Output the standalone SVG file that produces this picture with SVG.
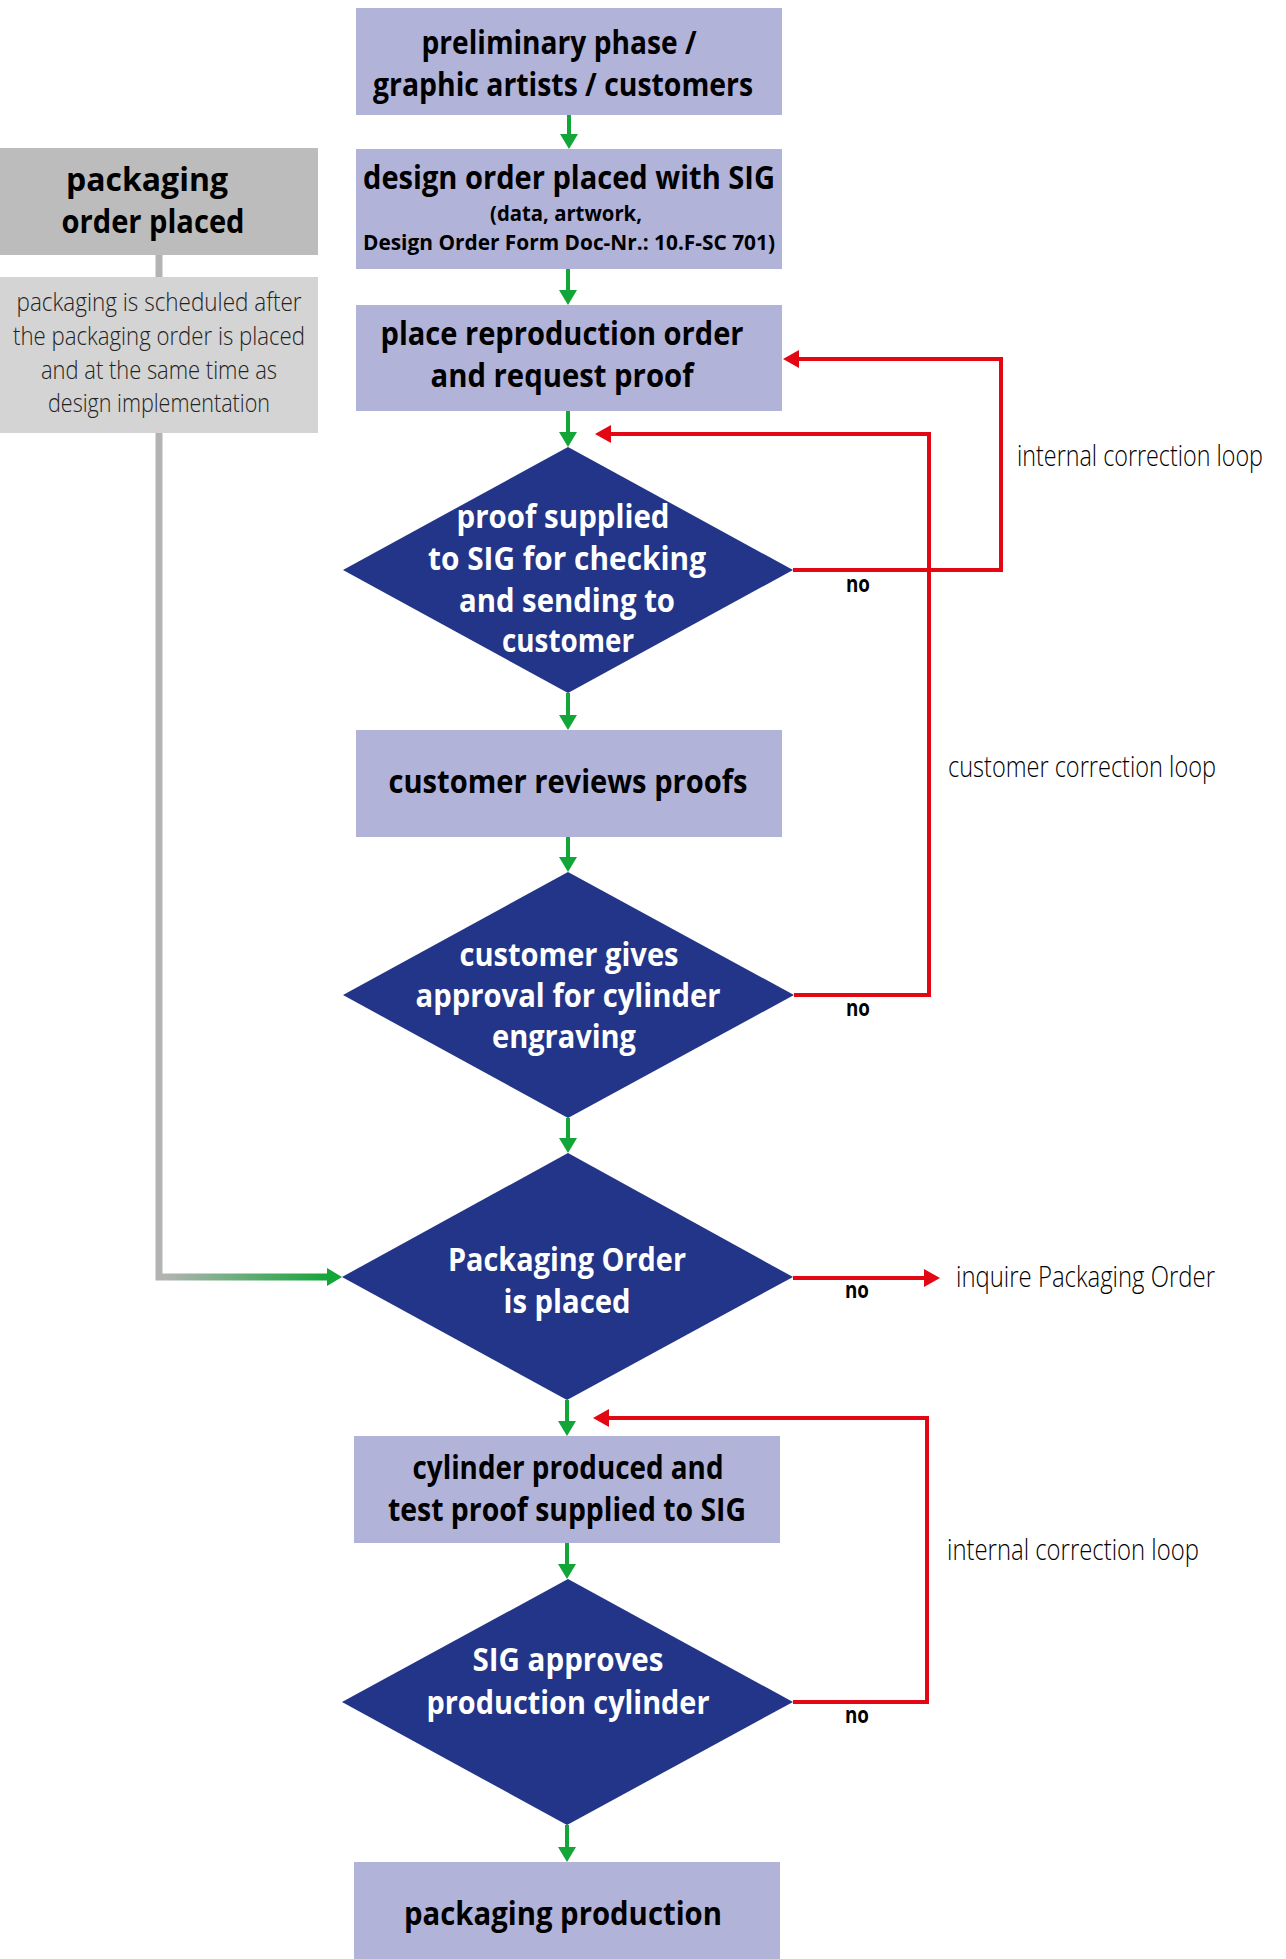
<svg xmlns="http://www.w3.org/2000/svg" width="1286" height="1959" viewBox="0 0 1286 1959">
<style>
.box{fill:#b2b3d9}
.dia{fill:#233588}
.t{font-family:"Open Sans","Liberation Sans",sans-serif;font-weight:700;font-size:32px;fill:#000;text-anchor:middle}
.ts{font-family:"Open Sans","Liberation Sans",sans-serif;font-weight:700;font-size:22px;fill:#000;text-anchor:middle}
.tw{font-family:"Open Sans","Liberation Sans",sans-serif;font-weight:700;font-size:32px;fill:#fff;text-anchor:middle}
.tl{font-family:"Open Sans","Liberation Sans",sans-serif;font-weight:300;font-size:29px;fill:#000}
.tg{font-family:"Open Sans","Liberation Sans",sans-serif;font-weight:300;font-size:25px;fill:#222;text-anchor:middle}
.no{font-family:"Open Sans","Liberation Sans",sans-serif;font-weight:700;font-size:23px;fill:#000;text-anchor:middle}
.g{fill:none;stroke:#12a538;stroke-width:4}
.r{fill:none;stroke:#e30613;stroke-width:4}
</style>
<defs>
<marker id="ag" viewBox="0 0 15 18" refX="7" refY="9" markerWidth="15" markerHeight="18" markerUnits="userSpaceOnUse" orient="auto"><path d="M0,0 L15,9 L0,18 Z" fill="#12a538"/></marker>
<marker id="ar" viewBox="0 0 16 18" refX="8" refY="9" markerWidth="16" markerHeight="18" markerUnits="userSpaceOnUse" orient="auto"><path d="M0,0 L16,9 L0,18 Z" fill="#e30613"/></marker>
<linearGradient id="gg" gradientUnits="userSpaceOnUse" x1="165" y1="0" x2="330" y2="0"><stop offset="0" stop-color="#b2b4b2"/><stop offset="1" stop-color="#12a538"/></linearGradient>
</defs>

<g id="connectors">
<path d="M159,255 V277" fill="none" stroke="#b2b4b2" stroke-width="7"/>
<path d="M159,433 V1277 H334" fill="none" stroke="url(#gg)" stroke-width="7" marker-end="url(#ag)"/>
<path class="g" d="M569,115 V141" marker-end="url(#ag)"/>
<path class="g" d="M568,269 V297" marker-end="url(#ag)"/>
<path class="g" d="M568,411 V439" marker-end="url(#ag)"/>
<path class="g" d="M568,693 V722" marker-end="url(#ag)"/>
<path class="g" d="M568,837 V864" marker-end="url(#ag)"/>
<path class="g" d="M568,1118 V1145" marker-end="url(#ag)"/>
<path class="g" d="M567,1400 V1428" marker-end="url(#ag)"/>
<path class="g" d="M567,1543 V1571" marker-end="url(#ag)"/>
<path class="g" d="M567,1825 V1854" marker-end="url(#ag)"/>
<path class="r" d="M793,570 H1001 V359 H791" marker-end="url(#ar)"/>
<path class="r" d="M794,995 H929 V434 H603" marker-end="url(#ar)"/>
<path class="r" d="M793,1278 H932" marker-end="url(#ar)"/>
<path class="r" d="M793,1702 H927 V1418 H601" marker-end="url(#ar)"/>
<text class="no" x="858" y="592" textLength="24" lengthAdjust="spacingAndGlyphs">no</text>
<text class="no" x="858" y="1016" textLength="24" lengthAdjust="spacingAndGlyphs">no</text>
<text class="no" x="857" y="1298" textLength="24" lengthAdjust="spacingAndGlyphs">no</text>
<text class="no" x="857" y="1723" textLength="24" lengthAdjust="spacingAndGlyphs">no</text>
</g>

<g id="n-preliminary">
<rect class="box" x="356" y="8" width="426" height="107"/>
<text class="t" x="559" y="54" textLength="275" lengthAdjust="spacingAndGlyphs">preliminary phase /</text>
<text class="t" x="563" y="96" textLength="380" lengthAdjust="spacingAndGlyphs">graphic artists / customers</text>
</g>

<g id="n-design-order">
<rect class="box" x="356" y="149" width="426" height="120"/>
<text class="t" x="569" y="189" textLength="412" lengthAdjust="spacingAndGlyphs">design order placed with SIG</text>
<text class="ts" x="566" y="221" textLength="152" lengthAdjust="spacingAndGlyphs">(data, artwork,</text>
<text class="ts" x="569" y="250" textLength="412" lengthAdjust="spacingAndGlyphs">Design Order Form Doc-Nr.: 10.F-SC 701)</text>
</g>

<g id="n-reproduction">
<rect class="box" x="356" y="305" width="426" height="106"/>
<text class="t" x="562" y="345" textLength="363" lengthAdjust="spacingAndGlyphs">place reproduction order</text>
<text class="t" x="562" y="387" textLength="263" lengthAdjust="spacingAndGlyphs">and request proof</text>
</g>

<g id="n-proof-supplied">
<polygon class="dia" points="568,447 793,570 568,693 343,570"/>
<text class="tw" x="563" y="528" textLength="213" lengthAdjust="spacingAndGlyphs">proof supplied</text>
<text class="tw" x="567" y="570" textLength="278" lengthAdjust="spacingAndGlyphs">to SIG for checking</text>
<text class="tw" x="567" y="612" textLength="216" lengthAdjust="spacingAndGlyphs">and sending to</text>
<text class="tw" x="568" y="652" textLength="132" lengthAdjust="spacingAndGlyphs">customer</text>
</g>

<g id="n-customer-reviews">
<rect class="box" x="356" y="730" width="426" height="107"/>
<text class="t" x="568" y="793" textLength="359" lengthAdjust="spacingAndGlyphs">customer reviews proofs</text>
</g>

<g id="n-customer-approval">
<polygon class="dia" points="568,872 794,995 568,1118 343,995"/>
<text class="tw" x="569" y="966" textLength="219" lengthAdjust="spacingAndGlyphs">customer gives</text>
<text class="tw" x="568" y="1007" textLength="305" lengthAdjust="spacingAndGlyphs">approval for cylinder</text>
<text class="tw" x="564" y="1048" textLength="144" lengthAdjust="spacingAndGlyphs">engraving</text>
</g>

<g id="n-packaging-order-placed-check">
<polygon class="dia" points="568,1153 793,1277 567,1400 342,1277"/>
<text class="tw" x="567" y="1271" textLength="238" lengthAdjust="spacingAndGlyphs">Packaging Order</text>
<text class="tw" x="567" y="1313" textLength="127" lengthAdjust="spacingAndGlyphs">is placed</text>
</g>

<g id="n-cylinder-produced">
<rect class="box" x="354" y="1436" width="426" height="107"/>
<text class="t" x="568" y="1479" textLength="311" lengthAdjust="spacingAndGlyphs">cylinder produced and</text>
<text class="t" x="567" y="1521" textLength="358" lengthAdjust="spacingAndGlyphs">test proof supplied to SIG</text>
</g>

<g id="n-sig-approves">
<polygon class="dia" points="568,1579 793,1702 567,1825 342,1702"/>
<text class="tw" x="568" y="1671" textLength="191" lengthAdjust="spacingAndGlyphs">SIG approves</text>
<text class="tw" x="568" y="1714" textLength="283" lengthAdjust="spacingAndGlyphs">production cylinder</text>
</g>

<g id="n-packaging-production">
<rect class="box" x="354" y="1862" width="426" height="97"/>
<text class="t" x="563" y="1925" textLength="318" lengthAdjust="spacingAndGlyphs">packaging production</text>
</g>

<g id="n-packaging-order-placed">
<rect x="0" y="148" width="318" height="107" fill="#bcbcbc"/>
<text class="t" x="147" y="191" textLength="162" lengthAdjust="spacingAndGlyphs">packaging</text>
<text class="t" x="153" y="233" textLength="183" lengthAdjust="spacingAndGlyphs">order placed</text>
</g>

<g id="n-scheduled">
<rect x="0" y="277" width="318" height="156" fill="#d3d4d3"/>
<text class="tg" x="159" y="311" textLength="285" lengthAdjust="spacingAndGlyphs">packaging is scheduled after</text>
<text class="tg" x="159" y="345" textLength="292" lengthAdjust="spacingAndGlyphs">the packaging order is placed</text>
<text class="tg" x="159" y="379" textLength="236" lengthAdjust="spacingAndGlyphs">and at the same time as</text>
<text class="tg" x="159" y="412" textLength="222" lengthAdjust="spacingAndGlyphs">design implementation</text>
</g>

<g id="labels">
<text class="tl" x="1017" y="466" textLength="246" lengthAdjust="spacingAndGlyphs">internal correction loop</text>
<text class="tl" x="948" y="777" textLength="268" lengthAdjust="spacingAndGlyphs">customer correction loop</text>
<text class="tl" x="956" y="1287" textLength="259" lengthAdjust="spacingAndGlyphs">inquire Packaging Order</text>
<text class="tl" x="947" y="1560" textLength="252" lengthAdjust="spacingAndGlyphs">internal correction loop</text>
</g>
</svg>
